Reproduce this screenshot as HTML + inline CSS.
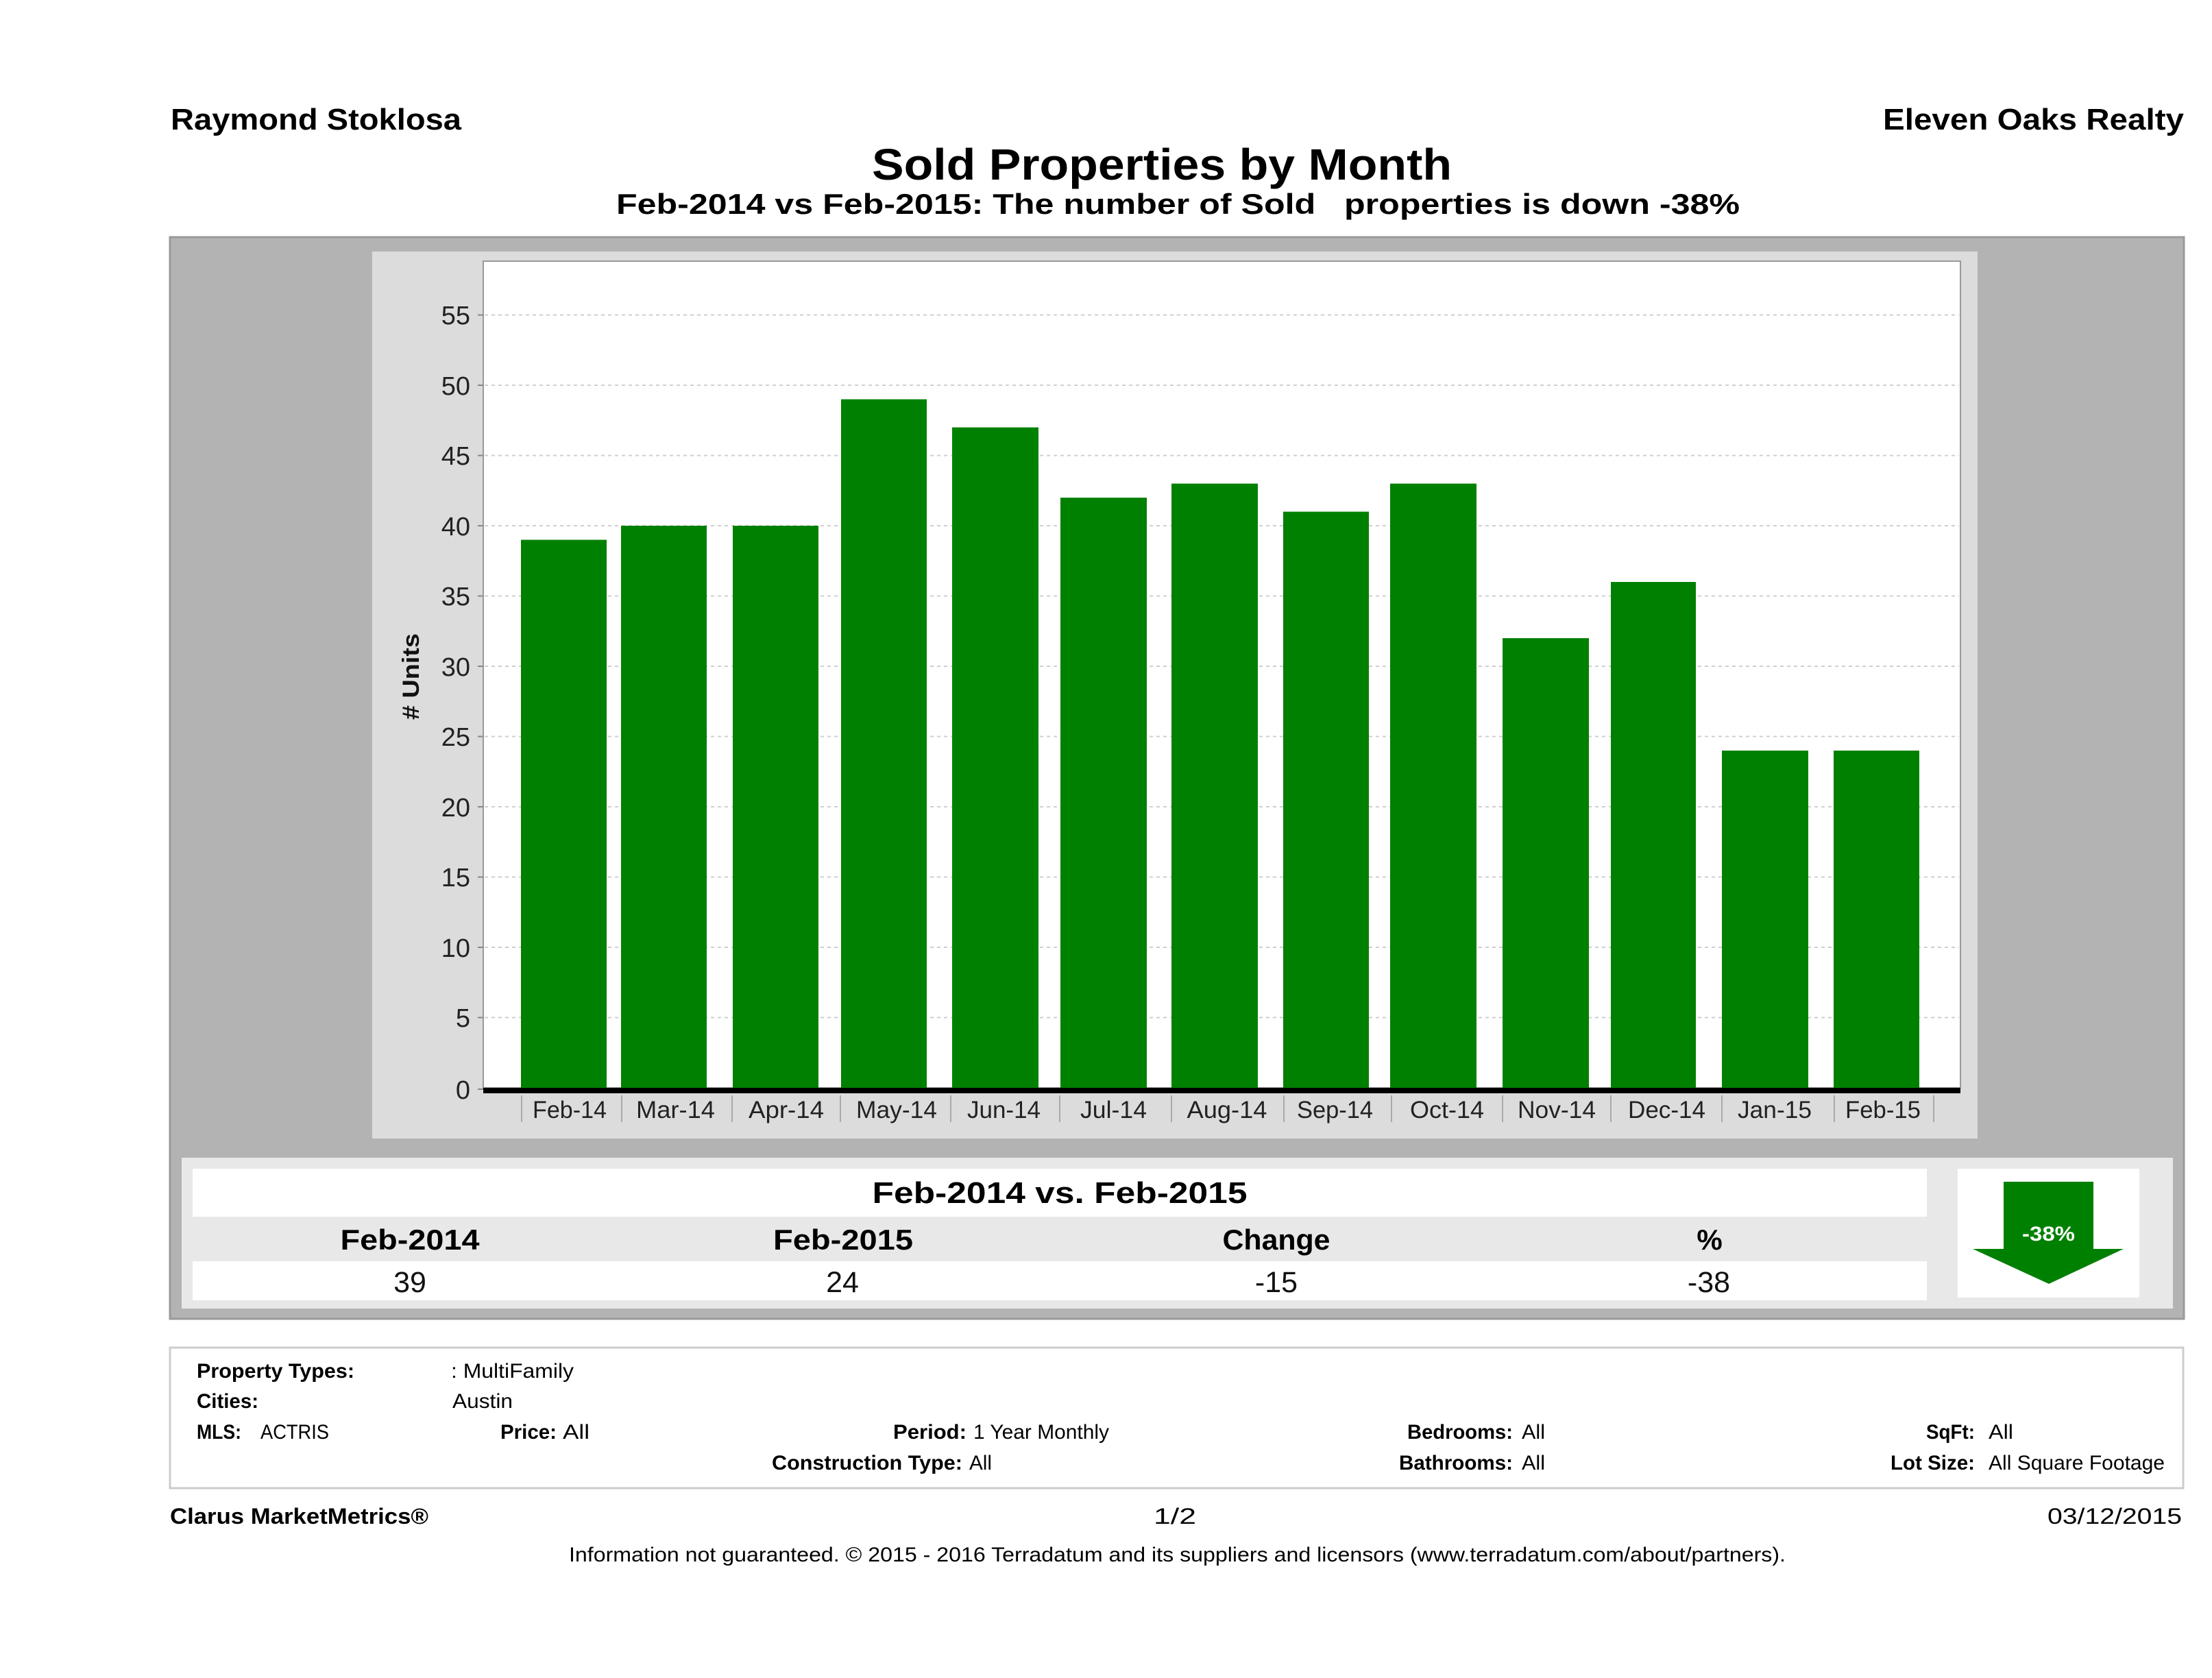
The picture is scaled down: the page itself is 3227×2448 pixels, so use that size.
<!DOCTYPE html>
<html><head><meta charset="utf-8"><style>
html,body{margin:0;padding:0;background:#fff;}
svg{display:block;}
text{font-family:"Liberation Sans","DejaVu Sans",sans-serif;}
.b{font-weight:bold;}
</style></head><body>
<svg width="3227" height="2448" viewBox="0 0 3227 2448" xmlns="http://www.w3.org/2000/svg">
<rect x="0" y="0" width="3227" height="2448" fill="#fff"/>
<!-- header -->
<text x="249" y="189" class="b" font-size="44" textLength="424" lengthAdjust="spacingAndGlyphs">Raymond Stoklosa</text>
<text x="2747" y="189" class="b" font-size="44" textLength="439" lengthAdjust="spacingAndGlyphs">Eleven Oaks Realty</text>
<text x="1272" y="262" class="b" font-size="64" textLength="846" lengthAdjust="spacingAndGlyphs">Sold Properties by Month</text>
<text x="899" y="312" class="b" font-size="42" textLength="1639" lengthAdjust="spacingAndGlyphs" style="white-space:pre">Feb-2014 vs Feb-2015: The number of Sold   properties is down -38%</text>

<!-- outer gray panel -->
<rect x="248" y="346" width="2938" height="1578" fill="#b3b3b3" stroke="#9a9a9a" stroke-width="3"/>
<!-- chart light panel -->
<rect x="543" y="367" width="2342" height="1294" fill="#dcdcdc"/>
<!-- plot area -->
<rect x="705" y="381" width="2155" height="1206" fill="#fff" stroke="#9a9a9a" stroke-width="2"/>

<!-- gridlines -->
<g stroke="#cfcfcf" stroke-width="2" stroke-dasharray="5,5">
<line x1="707" x2="2858" y1="1484.5" y2="1484.5"/>
<line x1="707" x2="2858" y1="1382" y2="1382"/>
<line x1="707" x2="2858" y1="1279.5" y2="1279.5"/>
<line x1="707" x2="2858" y1="1177" y2="1177"/>
<line x1="707" x2="2858" y1="1074.5" y2="1074.5"/>
<line x1="707" x2="2858" y1="972" y2="972"/>
<line x1="707" x2="2858" y1="869.5" y2="869.5"/>
<line x1="707" x2="2858" y1="767" y2="767"/>
<line x1="707" x2="2858" y1="664.5" y2="664.5"/>
<line x1="707" x2="2858" y1="562" y2="562"/>
<line x1="707" x2="2858" y1="459.5" y2="459.5"/>
</g>

<!-- y ticks -->
<g stroke="#888" stroke-width="2">
<line x1="697" x2="705" y1="1589" y2="1589"/>
<line x1="697" x2="705" y1="1484.5" y2="1484.5"/>
<line x1="697" x2="705" y1="1382" y2="1382"/>
<line x1="697" x2="705" y1="1279.5" y2="1279.5"/>
<line x1="697" x2="705" y1="1177" y2="1177"/>
<line x1="697" x2="705" y1="1074.5" y2="1074.5"/>
<line x1="697" x2="705" y1="972" y2="972"/>
<line x1="697" x2="705" y1="869.5" y2="869.5"/>
<line x1="697" x2="705" y1="767" y2="767"/>
<line x1="697" x2="705" y1="664.5" y2="664.5"/>
<line x1="697" x2="705" y1="562" y2="562"/>
<line x1="697" x2="705" y1="459.5" y2="459.5"/>
</g>
<!-- y labels -->
<g font-size="38" fill="#222" text-anchor="end">
<text x="686" y="1603">0</text>
<text x="686" y="1498">5</text>
<text x="686" y="1396">10</text>
<text x="686" y="1293">15</text>
<text x="686" y="1191">20</text>
<text x="686" y="1088">25</text>
<text x="686" y="986">30</text>
<text x="686" y="883">35</text>
<text x="686" y="781">40</text>
<text x="686" y="678">45</text>
<text x="686" y="576">50</text>
<text x="686" y="473">55</text>
</g>
<text transform="translate(611,987) rotate(-90)" text-anchor="middle" class="b" font-size="34" fill="#111" textLength="126" lengthAdjust="spacingAndGlyphs"># Units</text>

<!-- bars -->
<g fill="#008000">
<rect x="760" y="787.5" width="125" height="799.5"/>
<rect x="906" y="767" width="125" height="820"/>
<rect x="1069" y="767" width="125" height="820"/>
<rect x="1227" y="582.5" width="125" height="1004.5"/>
<rect x="1389" y="623.5" width="126" height="963.5"/>
<rect x="1547" y="726" width="126" height="861"/>
<rect x="1709" y="705.5" width="126" height="881.5"/>
<rect x="1872" y="746.5" width="125" height="840.5"/>
<rect x="2028" y="705.5" width="126" height="881.5"/>
<rect x="2192" y="931" width="126" height="656"/>
<rect x="2350" y="849" width="124" height="738"/>
<rect x="2512" y="1095" width="126" height="492"/>
<rect x="2675" y="1095" width="125" height="492"/>
</g>

<!-- x axis -->
<rect x="705" y="1587" width="2155" height="8" fill="#000"/>
<g stroke="#aaa" stroke-width="2">
<line x1="761" x2="761" y1="1598" y2="1637"/>
<line x1="907" x2="907" y1="1598" y2="1637"/>
<line x1="1068" x2="1068" y1="1598" y2="1637"/>
<line x1="1226" x2="1226" y1="1598" y2="1637"/>
<line x1="1387" x2="1387" y1="1598" y2="1637"/>
<line x1="1546" x2="1546" y1="1598" y2="1637"/>
<line x1="1709" x2="1709" y1="1598" y2="1637"/>
<line x1="1873" x2="1873" y1="1598" y2="1637"/>
<line x1="2030" x2="2030" y1="1598" y2="1637"/>
<line x1="2192" x2="2192" y1="1598" y2="1637"/>
<line x1="2350" x2="2350" y1="1598" y2="1637"/>
<line x1="2512" x2="2512" y1="1598" y2="1637"/>
<line x1="2676" x2="2676" y1="1598" y2="1637"/>
<line x1="2821" x2="2821" y1="1598" y2="1637"/>
</g>
<g font-size="35" fill="#222" text-anchor="middle">
<text x="831" y="1631" textLength="108" lengthAdjust="spacingAndGlyphs">Feb-14</text>
<text x="985.5" y="1631" textLength="115" lengthAdjust="spacingAndGlyphs">Mar-14</text>
<text x="1147" y="1631" textLength="110" lengthAdjust="spacingAndGlyphs">Apr-14</text>
<text x="1308" y="1631" textLength="118" lengthAdjust="spacingAndGlyphs">May-14</text>
<text x="1464.5" y="1631" textLength="107" lengthAdjust="spacingAndGlyphs">Jun-14</text>
<text x="1624.5" y="1631" textLength="97" lengthAdjust="spacingAndGlyphs">Jul-14</text>
<text x="1790" y="1631" textLength="117" lengthAdjust="spacingAndGlyphs">Aug-14</text>
<text x="1947.5" y="1631" textLength="111" lengthAdjust="spacingAndGlyphs">Sep-14</text>
<text x="2111" y="1631" textLength="108" lengthAdjust="spacingAndGlyphs">Oct-14</text>
<text x="2271" y="1631" textLength="114" lengthAdjust="spacingAndGlyphs">Nov-14</text>
<text x="2431.5" y="1631" textLength="113" lengthAdjust="spacingAndGlyphs">Dec-14</text>
<text x="2589" y="1631" textLength="108" lengthAdjust="spacingAndGlyphs">Jan-15</text>
<text x="2747" y="1631" textLength="110" lengthAdjust="spacingAndGlyphs">Feb-15</text>
</g>

<!-- table panel -->
<rect x="265" y="1689" width="2905" height="220" fill="#e8e8e8"/>
<rect x="281" y="1705" width="2530" height="70" fill="#fff"/>
<rect x="281" y="1840" width="2530" height="57" fill="#fff"/>
<text x="1546" y="1755" text-anchor="middle" class="b" font-size="44" textLength="547" lengthAdjust="spacingAndGlyphs">Feb-2014 vs. Feb-2015</text>
<g class="b" font-size="42" text-anchor="middle" fill="#000">
<text x="598" y="1823" textLength="203" lengthAdjust="spacingAndGlyphs">Feb-2014</text>
<text x="1230" y="1823" textLength="204" lengthAdjust="spacingAndGlyphs">Feb-2015</text>
<text x="1862" y="1823" textLength="157" lengthAdjust="spacingAndGlyphs">Change</text>
<text x="2494" y="1823">%</text>
</g>
<g font-size="43" text-anchor="middle" fill="#111">
<text x="598" y="1885">39</text>
<text x="1229" y="1885">24</text>
<text x="1862" y="1885">-15</text>
<text x="2493" y="1885">-38</text>
</g>
<!-- arrow box -->
<rect x="2856" y="1705" width="265" height="188" fill="#fff"/>
<polygon points="2923,1724 3054,1724 3054,1822 3098,1822 2989,1873 2878,1822 2923,1822" fill="#008000"/>
<text x="2988.5" y="1810" text-anchor="middle" class="b" font-size="30" fill="#fff" textLength="77" lengthAdjust="spacingAndGlyphs">-38%</text>

<!-- info box -->
<rect x="248" y="1966" width="2937" height="205" fill="#fff" stroke="#cccccc" stroke-width="3"/>
<g font-size="30" fill="#000">
<text x="287" y="2010" class="b" textLength="230" lengthAdjust="spacingAndGlyphs">Property Types:</text>
<text x="658" y="2010" textLength="179" lengthAdjust="spacingAndGlyphs">: MultiFamily</text>
<text x="287" y="2054" class="b" textLength="90" lengthAdjust="spacingAndGlyphs">Cities:</text>
<text x="660" y="2054" textLength="88" lengthAdjust="spacingAndGlyphs">Austin</text>
<text x="287" y="2099" class="b" textLength="65" lengthAdjust="spacingAndGlyphs">MLS:</text>
<text x="380" y="2099" textLength="100" lengthAdjust="spacingAndGlyphs">ACTRIS</text>
<text x="730" y="2099" class="b" textLength="82" lengthAdjust="spacingAndGlyphs">Price:</text>
<text x="821" y="2099" textLength="39" lengthAdjust="spacingAndGlyphs">All</text>
<text x="1303" y="2099" class="b" textLength="107" lengthAdjust="spacingAndGlyphs">Period:</text>
<text x="1420" y="2099" textLength="198" lengthAdjust="spacingAndGlyphs">1 Year Monthly</text>
<text x="2053" y="2099" class="b" textLength="154" lengthAdjust="spacingAndGlyphs">Bedrooms:</text>
<text x="2220" y="2099" textLength="34" lengthAdjust="spacingAndGlyphs">All</text>
<text x="2810" y="2099" class="b" textLength="71" lengthAdjust="spacingAndGlyphs">SqFt:</text>
<text x="2901" y="2099" textLength="36" lengthAdjust="spacingAndGlyphs">All</text>
<text x="1126" y="2144" class="b" textLength="278" lengthAdjust="spacingAndGlyphs">Construction Type:</text>
<text x="1414" y="2144" textLength="33" lengthAdjust="spacingAndGlyphs">All</text>
<text x="2041" y="2144" class="b" textLength="166" lengthAdjust="spacingAndGlyphs">Bathrooms:</text>
<text x="2220" y="2144" textLength="34" lengthAdjust="spacingAndGlyphs">All</text>
<text x="2758" y="2144" class="b" textLength="123" lengthAdjust="spacingAndGlyphs">Lot Size:</text>
<text x="2901" y="2144" textLength="257" lengthAdjust="spacingAndGlyphs">All Square Footage</text>
</g>

<!-- footer -->
<text x="248" y="2223" class="b" font-size="32" textLength="377" lengthAdjust="spacingAndGlyphs">Clarus MarketMetrics®</text>
<text x="1683" y="2223" font-size="32" textLength="62" lengthAdjust="spacingAndGlyphs">1/2</text>
<text x="2987" y="2223" font-size="32" textLength="196" lengthAdjust="spacingAndGlyphs">03/12/2015</text>
<text x="830" y="2278" font-size="30" textLength="1775" lengthAdjust="spacingAndGlyphs">Information not guaranteed. © 2015 - 2016 Terradatum and its suppliers and licensors (www.terradatum.com/about/partners).</text>
</svg>
</body></html>
